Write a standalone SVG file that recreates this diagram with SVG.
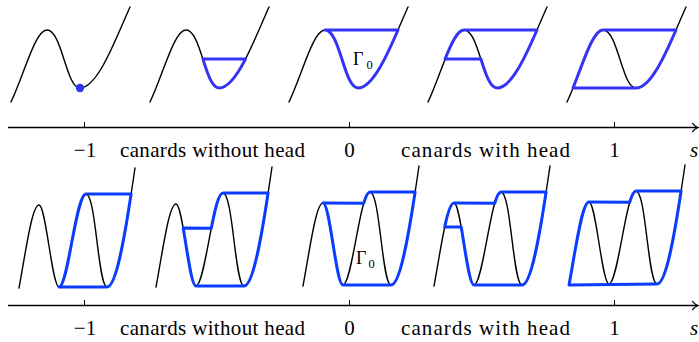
<svg xmlns="http://www.w3.org/2000/svg" width="699" height="342" viewBox="0 0 699 342">
<style>
.crv{fill:none;stroke:#000;stroke-width:1.4;stroke-linejoin:round;stroke-linecap:round}
.bt{fill:none;stroke:#3434f6;stroke-width:3;stroke-linejoin:round;stroke-linecap:round}
.bb{fill:none;stroke:#0a3cff;stroke-width:3;stroke-linejoin:round;stroke-linecap:round}
.ax{fill:none;stroke:#000;stroke-width:1.6}
.ah{fill:none;stroke:#000;stroke-width:1.2;stroke-linecap:round}
.tk{stroke:#000;stroke-width:1}
.t{font-family:'Liberation Serif','DejaVu Serif',serif;fill:#000}
.lb{font-size:21px}
.g{font-size:18px}
.sub{font-size:12.5px}
</style>
<defs>
<path id="topc" d="M11,102 C24,75 35,30 47,30 C62,30 66,88 80,88 C98,88 116,38 130,7"/>
<path id="botc" d="M19,288 C26,250 32,205 39,205 C46,205 52,287 59,287 C68,287 76,194 86,194 C96,194 98,287 107,287 C118,287 128,215 135,168"/>
</defs>

<g id="top-row">
<g id="panel-t1">
<use href="#topc" class="crv"/>
<circle cx="80" cy="88" r="4.2" fill="#3434f6"/>
</g>
<g id="panel-t2" transform="translate(139,0)">
<use href="#topc" class="crv"/>
<path class="bt" d="M63.9,59 C68.5,73.5 73,88 80,88 C89,88 98,75.5 106.5,59.1 Z"/>
</g>
<g id="panel-t3" transform="translate(278,0)">
<use href="#topc" class="crv"/>
<path class="bt" d="M47,30 C62,30 66,88 80,88 C93.95,88 107.9,58 120,30 Z"/>
</g>
<g id="panel-t4" transform="translate(417,0)">
<use href="#topc" class="crv"/>
<path class="bt" d="M63.9,59 L28.1,59 C34.45,42.9 40.6,30 47,30 L120,30 C107.9,58 93.95,88 80,88 C73,88 68.5,73.5 63.9,59 Z"/>
</g>
<g id="panel-t5" transform="translate(556,0)">
<use href="#topc" class="crv"/>
<path class="bt" d="M17,88 C27.5,61.9 36.9,30 47,30 L120,30 C107.9,58 93.95,88 80,88 Z"/>
</g>
<g id="gamma-top" class="t" font-family="Liberation Serif, DejaVu Serif, serif">
<text class="g" x="353" y="65">Γ</text>
<text class="sub" x="366.5" y="68.5">0</text>
</g>
</g>

<g id="axis-top" class="t" font-family="Liberation Serif, DejaVu Serif, serif">
<path class="ax" d="M8,127.5 H697"/>
<path class="ah" d="M692.5,123.3 C694.2,125.6 696.5,127 698.4,127.5 C696.5,128 694.2,129.4 692.5,131.7"/>
<path class="tk" d="M84.5,122 V127.5 M349.5,122 V127.5 M614.5,122 V127.5"/>
<text class="lb" x="85" y="157" text-anchor="middle">−1</text>
<text class="lb" x="212.5" y="157" text-anchor="middle" textLength="185" lengthAdjust="spacing">canards without head</text>
<text class="lb" x="349.5" y="157" text-anchor="middle">0</text>
<text class="lb" x="485.5" y="157" text-anchor="middle" textLength="169" lengthAdjust="spacing">canards with head</text>
<text class="lb" x="614.5" y="157" text-anchor="middle">1</text>
<text class="lb" x="690" y="157" font-style="italic">s</text>
</g>

<g id="bottom-row">
<g id="panel-b1">
<use href="#botc" class="crv"/>
<path class="bb" d="M59,287 C68,287 76,194 86,194 L131.1,194 C124.5,237.7 116.1,287 107,287 Z"/>
</g>
<g id="panel-b2" transform="translate(137,-1)">
<use href="#botc" class="crv"/>
<path class="bb" d="M46.2,228.9 C50.4,253.1 54.5,287 59,287 L107,287 C116.1,287 124.5,237.7 131.1,194 L86,194 C81.8,194 78,210.3 74.3,229.2 Z"/>
</g>
<g id="panel-b3" transform="translate(284,-2)">
<use href="#botc" class="crv"/>
<path class="bb" d="M39,205 C46,205 52,287 59,287 L107,287 C116.1,287 124.5,237.7 131.1,194 L86,194 C83.8,194 81.8,198.4 79.7,205.2 Z"/>
</g>
<g id="panel-b4" transform="translate(415,-2)">
<use href="#botc" class="crv"/>
<path class="bb" d="M29.7,229 C32.7,214.7 35.8,205 39,205 L79.7,205.2 C81.8,198.4 83.8,194 86,194 L131.1,194 C124.5,237.7 116.1,287 107,287 L59,287 C54.5,287 50.4,253.1 46.2,228.9 Z"/>
</g>
<g id="panel-b5" transform="translate(550,-3)">
<use href="#botc" class="crv"/>
<path class="bb" d="M19,288 C26,250 32,205 39,205 L79.7,205.2 C81.8,198.4 83.8,194 86,194 L131.1,194 C124.5,237.7 116.1,287 107,287 Z"/>
</g>
<g id="gamma-bottom" class="t" font-family="Liberation Serif, DejaVu Serif, serif">
<text class="g" x="356" y="264">Γ</text>
<text class="sub" x="368.5" y="267.5">0</text>
</g>
</g>

<g id="axis-bottom" class="t" font-family="Liberation Serif, DejaVu Serif, serif">
<path class="ax" d="M8,305.5 H697"/>
<path class="ah" d="M692.5,301.3 C694.2,303.6 696.5,305 698.4,305.5 C696.5,306 694.2,307.4 692.5,309.7"/>
<path class="tk" d="M84.5,300 V305.5 M349.5,300 V305.5 M614.5,300 V305.5"/>
<text class="lb" x="85" y="335" text-anchor="middle">−1</text>
<text class="lb" x="212.5" y="335" text-anchor="middle" textLength="185" lengthAdjust="spacing">canards without head</text>
<text class="lb" x="349.5" y="335" text-anchor="middle">0</text>
<text class="lb" x="485.5" y="335" text-anchor="middle" textLength="169" lengthAdjust="spacing">canards with head</text>
<text class="lb" x="614.5" y="335" text-anchor="middle">1</text>
<text class="lb" x="690" y="335" font-style="italic">s</text>
</g>
</svg>
